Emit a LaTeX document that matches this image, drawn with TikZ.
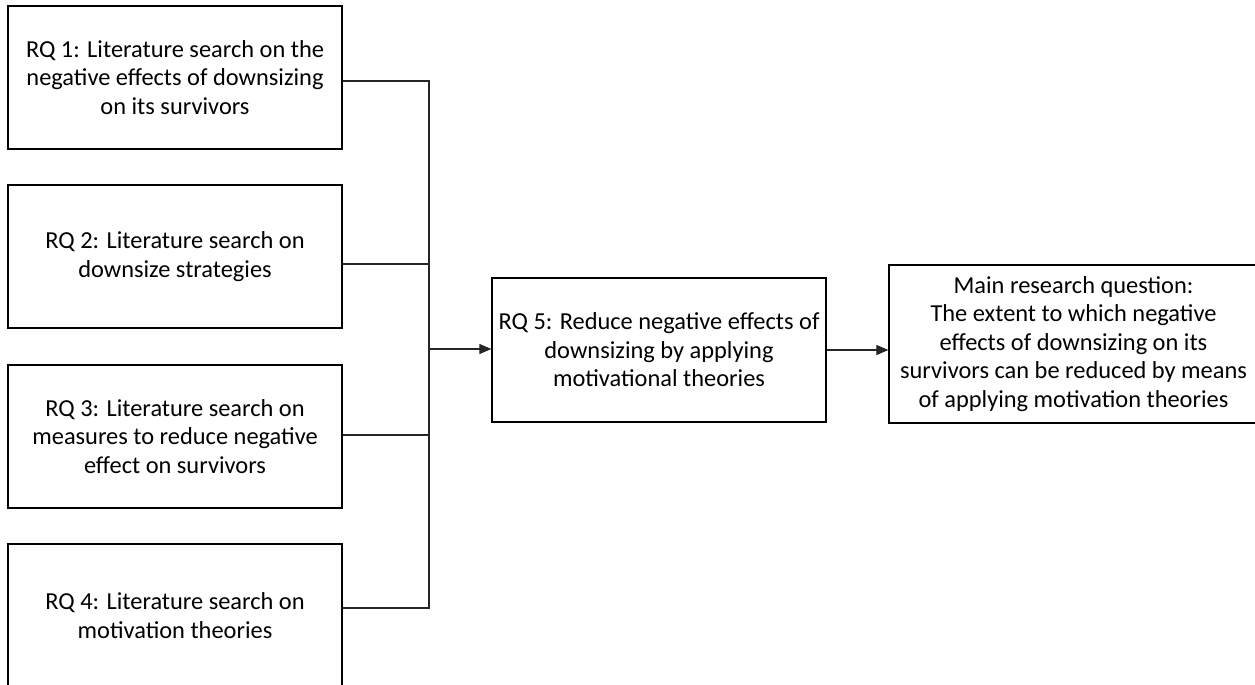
\documentclass[tikz,border=0pt]{standalone}
\usepackage{fontspec}
\setmainfont{Carlito}
\usetikzlibrary{arrows.meta,calc}
\begin{document}
\begin{tikzpicture}[x=1pt,y=-1pt,
  box/.style={draw=black,line width=1.2pt,align=center,inner sep=0pt,
    font=\fontsize{24.4}{28.6}\selectfont},
  rqbox/.style={box,minimum width=334,minimum height=143},
  link/.style={draw=black!85,line width=1.1pt},
  arr/.style={link,-{Triangle[length=12pt,width=10pt]}}]
\useasboundingbox (0,0) rectangle (1255,685);
\clip (0,0) rectangle (1255,685);

% sub-question boxes on the left
\node[rqbox] (rq1) at (175,77.5) {RQ 1: Literature search on the\\negative effects of downsizing\\on its survivors};
\node[rqbox] (rq2) at (175,256.5) {RQ 2: Literature search on\\downsize strategies};
\node[rqbox] (rq3) at (175,436.5) {RQ 3: Literature search on\\measures to reduce negative\\effect on survivors};
\node[rqbox] (rq4) at (175,615.5) {RQ 4: Literature search on\\motivation theories};

% synthesis and main question
\node[box,minimum width=334,minimum height=144] (rq5) at (659,350) {RQ 5: Reduce negative effects of\\downsizing by applying\\motivational theories};
\node[box,minimum width=369,minimum height=158] (main) at (1073.5,344) {Main research question:\\The extent to which negative\\effects of downsizing on its\\survivors can be reduced by means\\of applying motivation theories};

% collecting bus
\coordinate (top) at (429,81);
\coordinate (bot) at (429,608);
\coordinate (mid) at (429,349);
\coordinate (c1) at ($(rq1.east)+(0,3.5)$);
\coordinate (c2) at ($(rq2.east)+(0,7.5)$);
\coordinate (c3) at ($(rq3.east)+(0,-1.5)$);
\coordinate (c4) at ($(rq4.east)+(0,-7.5)$);
\draw[link] (c1) -- (c1 -| top) -- (c4 -| bot) -- (c4);
\draw[link] (c2) -- (c2 -| top);
\draw[link] (c3) -- (c3 -| top);

% arrows
\draw[arr] (mid) -- (mid -| rq5.west);
\draw[arr] (rq5.east) -- (rq5.east -| main.west);
\end{tikzpicture}
\end{document}
